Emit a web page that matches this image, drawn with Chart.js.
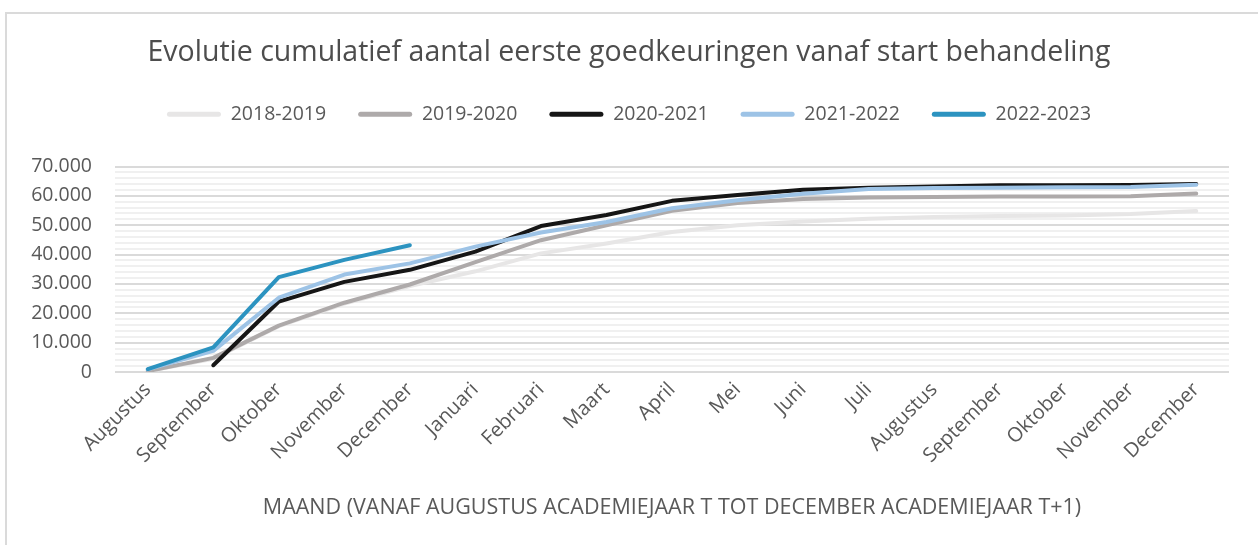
<!DOCTYPE html>
<html>
<head>
<meta charset="utf-8">
<script src="https://cdn.jsdelivr.net/npm/chart.js@4/dist/chart.umd.min.js"></script>
<style>
  html, body { margin: 0; padding: 0; background: #ffffff; }
  #wrap { position: relative; width: 1258px; height: 545px; overflow: hidden; }
  #frame { position: absolute; left: 5px; top: 12px; width: 1400px; height: 700px;
           border-left: 2px solid #DADADA; border-top: 2px solid #DADADA; }
  #c { position: absolute; left: 0; top: 0; }
</style>
</head>
<body>
<div id="wrap">
  <div id="frame"></div>
  <canvas id="c" width="1258" height="545"></canvas>
</div>
<script>
const months = ["Augustus","September","Oktober","November","December","Januari","Februari","Maart","April","Mei","Juni","Juli","Augustus","September","Oktober","November","December"];

const s2018_2019 = [300, 4500, 15600, 23300, 29300, 34300, 40400, 43800, 47700, 50000, 51300, 52200, 52800, 53100, 53300, 53800, 54800];
const s2019_2020 = [300, 4800, 15800, 23600, 29800, 37400, 44900, 50000, 54900, 57600, 58900, 59400, 59600, 59800, 59800, 59900, 60800];
const s2020_2021 = [null, 2300, 24000, 30700, 34800, 41000, 49700, 53500, 58300, 60300, 62100, 62800, 63200, 63600, 63600, 63700, 64000];
const s2021_2022 = [900, 7200, 25300, 33200, 37000, 42700, 47500, 51100, 55800, 58500, 60700, 62300, 62700, 62800, 62900, 63000, 63800];
const s2022_2023 = [1000, 8400, 32300, 38200, 43200, null, null, null, null, null, null, null, null, null, null, null, null];

const seriesNames = ["2018-2019","2019-2020","2020-2021","2021-2022","2022-2023"];
const yTickStep = 2000;
const yLabelStep = 10000;
const yMax = 70000;
const chartTitle = "Evolutie cumulatief aantal eerste goedkeuringen vanaf start behandeling";
const xTitle = "MAAND (VANAF AUGUSTUS ACADEMIEJAAR T TOT DECEMBER ACADEMIEJAAR T+1)";

const FONT = "'Open Sans', 'Noto Sans', sans-serif";
const TXT = "#595959";

function ds(label, data, color) {
  return {
    label, data,
    borderColor: color, backgroundColor: color,
    borderWidth: 4, pointRadius: 0, pointHoverRadius: 0,
    borderCapStyle: 'round', borderJoinStyle: 'round',
    tension: 0, fill: false, spanGaps: false
  };
}

// reverse order so that the newest year is drawn on top
const datasets = [
  ds(seriesNames[4], s2022_2023, '#2C93C0'),
  ds(seriesNames[3], s2021_2022, '#9DC3E6'),
  ds(seriesNames[2], s2020_2021, '#161616'),
  ds(seriesNames[1], s2019_2020, '#AEAAAA'),
  ds(seriesNames[0], s2018_2019, '#E7E6E6')
];

function fmt(v) { return String(v).replace(/\B(?=(\d{3})+(?!\d))/g, '.'); }

new Chart(document.getElementById('c'), {
  type: 'line',
  data: { labels: months, datasets },
  options: {
    responsive: false,
    animation: false,
    events: [],
    layout: { padding: { left: 0, right: 0, top: 0, bottom: 24 } },
    plugins: {
      title: {
        display: true, text: chartTitle, color: '#4D4D4D',
        font: { family: FONT, size: 28.5, weight: '500' },
        padding: { top: 36, bottom: 2.3 }
      },
      subtitle: {
        display: true, text: '', weight: 500,
        font: { size: 1 }, padding: { top: 0, bottom: 31.3 }
      },
      legend: {
        display: true, position: 'top', reverse: true,
        labels: {
          color: TXT, font: { family: FONT, size: 19.5 },
          boxWidth: 54, boxHeight: 5, padding: 32,
          useBorderRadius: true, borderRadius: 2.5,
          generateLabels: (chart) => {
            const items = Chart.defaults.plugins.legend.labels.generateLabels(chart);
            items.forEach(it => { it.lineWidth = 0; it.strokeStyle = 'rgba(0,0,0,0)'; });
            return items;
          }
        }
      },
      tooltip: { enabled: false }
    },
    scales: {
      x: {
        type: 'category', offset: true,
        grid: { display: false, drawTicks: false },
        border: { display: false },
        ticks: {
          color: TXT, font: { family: FONT, size: 20 },
          minRotation: 45, maxRotation: 45, autoSkip: false, padding: 6
        },
        title: {
          display: true, text: xTitle, color: TXT,
          font: { family: FONT, size: 21.5 }, padding: { top: 0, bottom: 0 }
        },
        afterFit: (s) => { s.height = 545 - 24 - 372; }
      },
      y: {
        type: 'linear', position: 'left', min: 0, max: yMax,
        grid: {
          drawTicks: false,
          color: (ctx) => (ctx.tick && ctx.tick.value % yLabelStep === 0) ? '#DADADA' : '#F0F0F0',
          lineWidth: 2
        },
        border: { display: false },
        ticks: {
          stepSize: yTickStep, maxTicksLimit: 100, autoSkip: false,
          color: TXT, font: { family: FONT, size: 19.5 }, padding: 23,
          callback: (v) => (v % yLabelStep === 0) ? fmt(v) : ''
        },
        afterFit: (s) => { s.width = 115; }
      },
      yRight: {
        type: 'linear', position: 'right', display: true,
        grid: { display: false, drawTicks: false },
        border: { display: false },
        ticks: { display: false },
        afterFit: (s) => { s.width = 29; }
      }
    }
  }
});
</script>
</body>
</html>
